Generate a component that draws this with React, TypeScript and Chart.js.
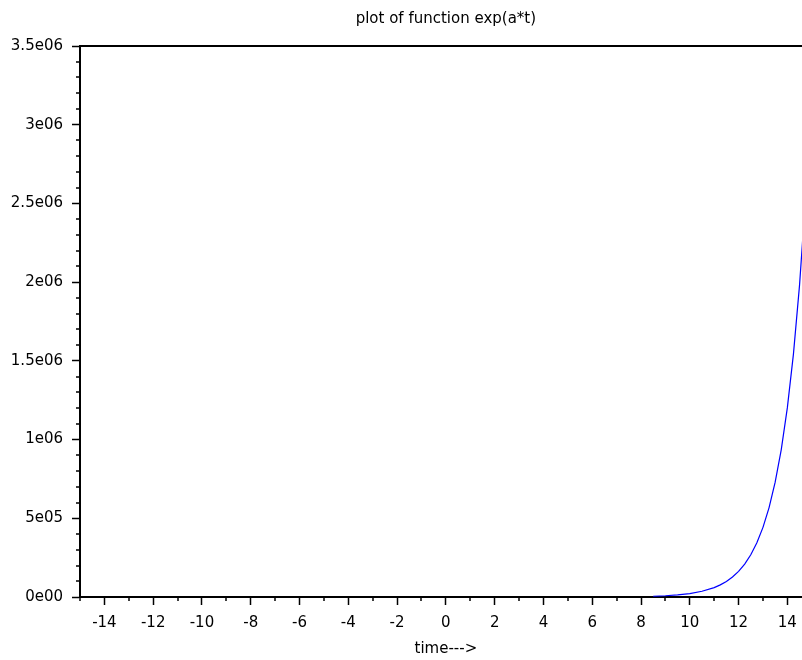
import React, { useEffect, useRef } from "react";
import { Chart, registerables } from "chart.js";

Chart.register(...registerables);

const chartTitle = "plot of function exp(a*t)";
const xAxisTitle = "time--->";

// curve samples (t, value)
const timeValues = [8.5, 9, 9.5, 10, 10.5, 11, 11.25, 11.5, 11.75, 12, 12.25, 12.5, 12.75, 13, 13.25, 13.5, 13.75, 14, 14.25, 14.5, 14.75, 15];
const curveValues = [4900, 8100, 13400, 22000, 36300, 59900, 76900, 98700, 126700, 162800, 209000, 268300, 344600, 442400, 568100, 729400, 936600, 1202600, 1544200, 1982800, 2546000, 3269000];

const xMin = -15;
const xMax = 14.6;
const xTickValues = [-14, -12, -10, -8, -6, -4, -2, 0, 2, 4, 6, 8, 10, 12, 14];
const xTickLabels = ["-14", "-12", "-10", "-8", "-6", "-4", "-2", "0", "2", "4", "6", "8", "10", "12", "14"];
const xMinorValues = [-15, -13, -11, -9, -7, -5, -3, -1, 1, 3, 5, 7, 9, 11, 13];

const yMin = 0;
const yMax = 3500000;
const yTickValues = [0, 500000, 1000000, 1500000, 2000000, 2500000, 3000000, 3500000];
const yTickLabels = ["0e00", "5e05", "1e06", "1.5e06", "2e06", "2.5e06", "3e06", "3.5e06"];
const yMinorStep = 100000;

const FONT = "DejaVu Sans";

export default function App() {
  const canvasRef = useRef<HTMLCanvasElement | null>(null);

  useEffect(() => {
    const canvas = canvasRef.current;
    if (!canvas) return;

    const decor = {
      id: "decor",
      afterDraw(chart: any) {
        const { ctx, chartArea, scales } = chart;
        const x = scales.x;
        const y = scales.y;
        ctx.save();
        ctx.strokeStyle = "#000";
        ctx.lineWidth = 1.5;
        ctx.beginPath();
        for (const v of xMinorValues) {
          const px = Math.round(x.getPixelForValue(v));
          ctx.moveTo(px, chartArea.bottom);
          ctx.lineTo(px, chartArea.bottom + 4);
        }
        for (let v = yMin + yMinorStep; v < yMax; v += yMinorStep) {
          if (v % 500000 === 0) continue;
          const py = Math.round(y.getPixelForValue(v));
          ctx.moveTo(chartArea.left - 4, py);
          ctx.lineTo(chartArea.left, py);
        }
        ctx.stroke();
        // top border
        ctx.lineWidth = 2;
        ctx.beginPath();
        ctx.moveTo(chartArea.left, chartArea.top);
        ctx.lineTo(chart.width, chartArea.top);
        ctx.stroke();
        // titles
        const cx = x.getPixelForValue(0);
        ctx.fillStyle = "#000";
        ctx.textAlign = "center";
        ctx.textBaseline = "middle";
        ctx.font = `15px "${FONT}"`;
        ctx.fillText(chartTitle, cx, 19);
        ctx.fillText(xAxisTitle, cx, 649);
        ctx.restore();
      },
    };

    const chart = new Chart(canvas, {
      type: "scatter",
      data: {
        datasets: [
          {
            data: timeValues.map((t, i) => ({ x: t, y: curveValues[i] })),
            showLine: true,
            borderColor: "#0000ff",
            borderWidth: 1.2,
            pointRadius: 0,
            fill: false,
          },
        ],
      },
      options: {
        animation: false,
        responsive: false,
        devicePixelRatio: 1,
        layout: { padding: { top: 46, left: 0, right: 0, bottom: 0 } },
        plugins: {
          legend: { display: false },
          title: { display: false },
          tooltip: { enabled: false },
        },
        scales: {
          x: {
            type: "linear",
            min: xMin,
            max: xMax,
            afterBuildTicks: (scale: any) => {
              scale.ticks = xTickValues.map((v) => ({ value: v }));
            },
            afterFit: (scale: any) => {
              scale.height = 63;
              scale.paddingLeft = 0;
              scale.paddingRight = 0;
            },
            grid: {
              display: true,
              drawOnChartArea: false,
              drawTicks: true,
              tickLength: 8,
              tickColor: "#000",
              tickWidth: 1.5,
            },
            border: { display: true, color: "#000", width: 2 },
            ticks: {
              autoSkip: false,
              maxRotation: 0,
              padding: 9,
              color: "#000",
              font: { family: FONT, size: 15 },
              callback: (_v: any, i: number) => xTickLabels[i],
            },
          },
          y: {
            type: "linear",
            min: yMin,
            max: yMax,
            afterBuildTicks: (scale: any) => {
              scale.ticks = yTickValues.map((v) => ({ value: v }));
            },
            afterFit: (scale: any) => {
              scale.width = 80;
              scale.paddingTop = 0;
              scale.paddingBottom = 0;
            },
            grid: {
              display: true,
              drawOnChartArea: false,
              drawTicks: true,
              tickLength: 8,
              tickColor: "#000",
              tickWidth: 1.5,
            },
            border: { display: true, color: "#000", width: 2 },
            ticks: {
              autoSkip: false,
              padding: 9,
              color: "#000",
              font: { family: FONT, size: 15 },
              callback: (_v: any, i: number) => yTickLabels[i],
            },
          },
        },
      },
      plugins: [decor],
    } as any);

    return () => chart.destroy();
  }, []);

  return (
    <div style={{ position: "fixed", left: 0, top: 0, width: 802, height: 660, background: "#fff" }}>
      <canvas ref={canvasRef} width={802} height={660} style={{ display: "block" }} />
    </div>
  );
}
